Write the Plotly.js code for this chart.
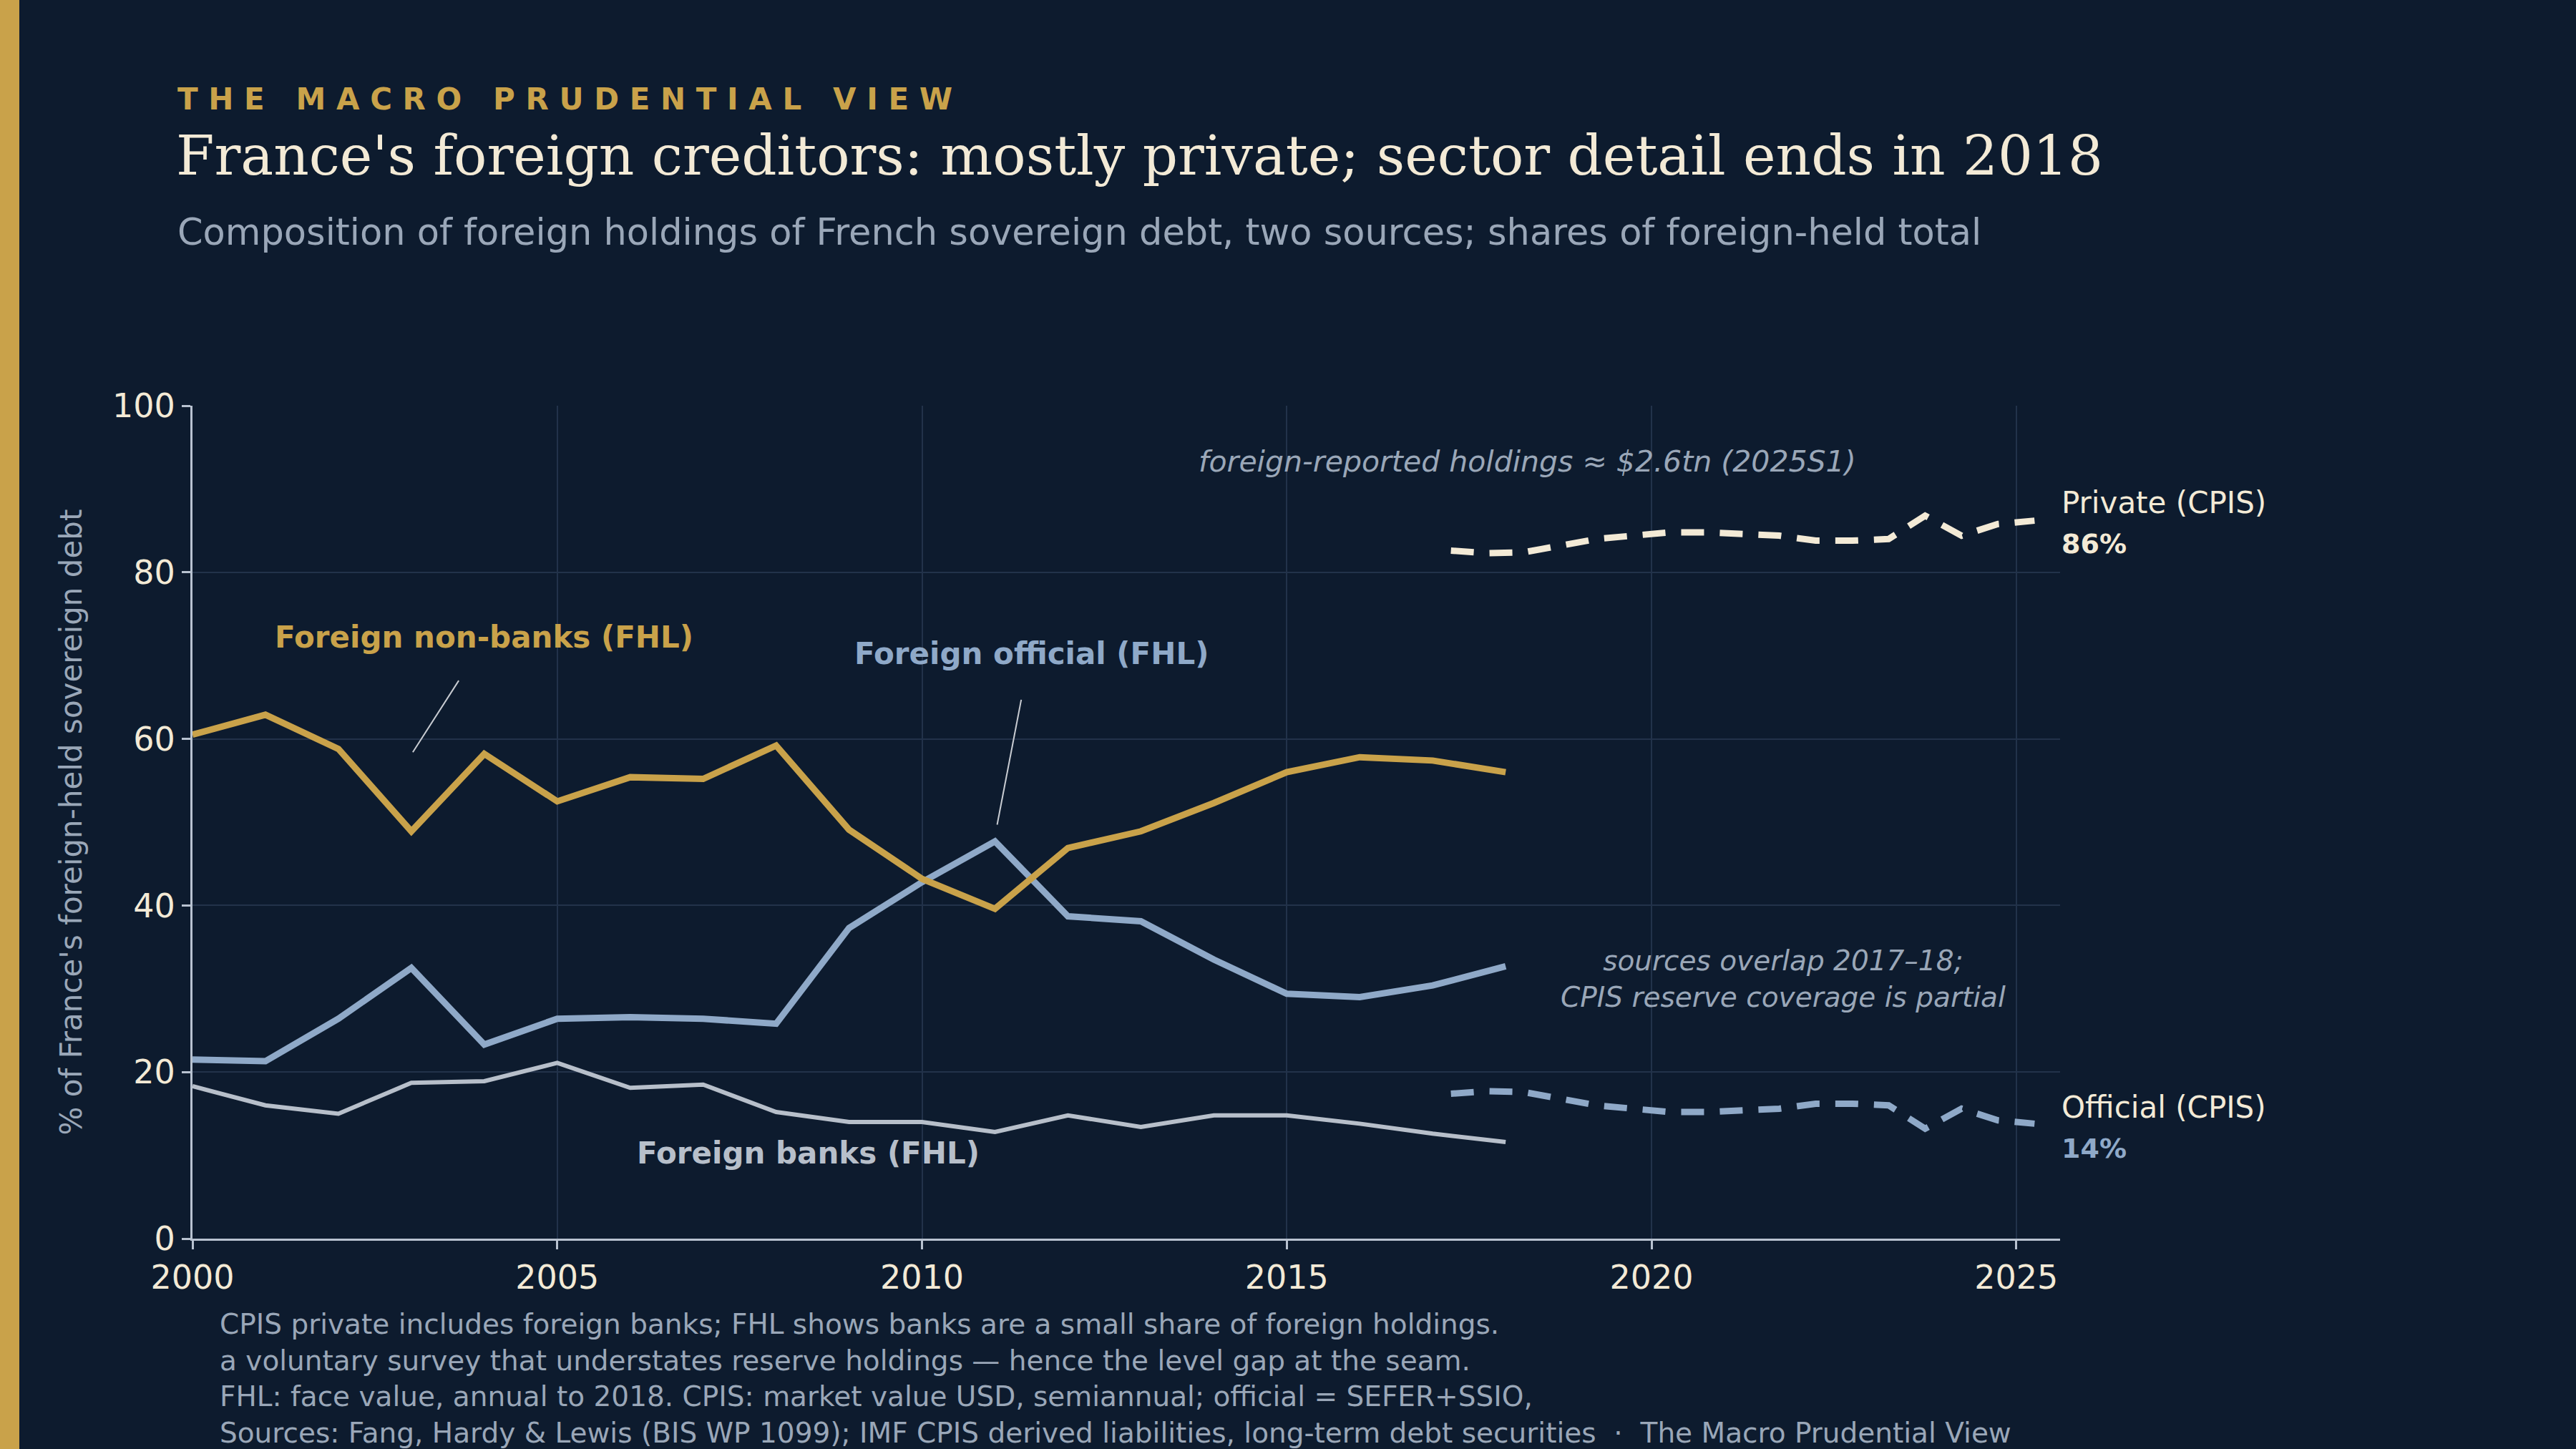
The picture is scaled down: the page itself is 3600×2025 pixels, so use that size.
<!DOCTYPE html>
<html>
<head>
<meta charset="utf-8">
<script src="https://cdn.plot.ly/plotly-3.0.1.min.js"></script>
<style>
  html, body { margin: 0; padding: 0; background: #0d1b2e; }
  #chart { width: 3600px; height: 2025px; }
</style>
</head>
<body>
<div id="chart"></div>
<script>
// FHL annual shares, 2000-2018
const fhlYears = [2000, 2001, 2002, 2003, 2004, 2005, 2006, 2007, 2008, 2009, 2010, 2011, 2012, 2013, 2014, 2015, 2016, 2017, 2018]
const fhlNonBanks = [60.5, 62.9, 58.8, 48.9, 58.2, 52.5, 55.4, 55.2, 59.2, 49.1, 43.2, 39.6, 46.9, 48.9, 52.3, 56.0, 57.8, 57.4, 56.0]
const fhlOfficial = [21.5, 21.3, 26.4, 32.5, 23.3, 26.4, 26.6, 26.4, 25.8, 37.3, 42.8, 47.7, 38.7, 38.1, 33.5, 29.4, 29.0, 30.4, 32.7]
const fhlBanks = [18.3, 16.0, 15.0, 18.7, 18.9, 21.1, 18.1, 18.5, 15.2, 14.0, 14.0, 12.8, 14.8, 13.4, 14.8, 14.8, 13.8, 12.6, 11.6]

// CPIS semiannual shares, 2017S1-2025S1 (plotted mid-half)
const cpisDates = [2017.25, 2017.75, 2018.25, 2018.75, 2019.25, 2019.75, 2020.25, 2020.75, 2021.25, 2021.75, 2022.25, 2022.75, 2023.25, 2023.75, 2024.25, 2024.75, 2025.25]
const cpisPrivate = [82.6, 82.3, 82.4, 83.2, 84.0, 84.4, 84.8, 84.8, 84.6, 84.4, 83.8, 83.8, 84.0, 86.8, 84.4, 85.8, 86.2]
const cpisOfficial = [17.4, 17.7, 17.6, 16.8, 16.0, 15.6, 15.2, 15.2, 15.4, 15.6, 16.2, 16.2, 16.0, 13.2, 15.6, 14.2, 13.8]

const xTicks = [2000, 2005, 2010, 2015, 2020, 2025]
const yTicks = [0, 20, 40, 60, 80, 100]

const BG = "#0d1b2e"
const GOLD = "#c9a24a"
const BLUE = "#8fa9c8"
const GREY = "#b7bfca"
const CREAM = "#f3ead6"
const MUTED = "#9aa7b8"

const line = (x, y, color, width, dash) => ({
    type: "scatter", mode: "lines", x: x, y: y, showlegend: false, hoverinfo: "skip",
    line: { color: color, width: width, dash: dash || "solid" }
})

const data = [
    line(fhlYears, fhlBanks, GREY, 6),
    line(fhlYears, fhlOfficial, BLUE, 9),
    line(fhlYears, fhlNonBanks, GOLD, 9),
    line(cpisDates, cpisOfficial, BLUE, 9, "32px,22px"),
    line(cpisDates, cpisPrivate, CREAM, 9, "32px,22px")
]

const sans = "DejaVu Sans, sans-serif"
const paperText = (text, x, y, size, color, extra) => Object.assign({
    text: text, xref: "paper", yref: "paper", x: x, y: y, showarrow: false,
    xanchor: "left", yanchor: "middle", font: { family: sans, size: size, color: color }
}, extra || {})
const dataText = (text, x, y, size, color, extra) => Object.assign({
    text: text, xref: "x", yref: "y", x: x, y: y, showarrow: false,
    xanchor: "center", yanchor: "middle", font: { family: sans, size: size, color: color }
}, extra || {})

// paper coords: plot spans x 269..2879, y 567..1731
const px = v => (v - 269) / (2879 - 269)
const py = v => (1731 - v) / (1731 - 567)

const annotations = [
    paperText("T H E   M A C R O   P R U D E N T I A L   V I E W", px(246), py(138), 42, GOLD, { font: { family: sans, size: 42, color: GOLD, weight: 700 } }),
    paperText("France's foreign creditors: mostly private; sector detail ends in 2018", px(244), py(218), 78, CREAM, { font: { family: "DejaVu Serif, serif", size: 77, color: CREAM } }),
    paperText("Composition of foreign holdings of French sovereign debt, two sources; shares of foreign-held total", px(246), py(324), 51, MUTED),
    dataText("<b>Foreign non-banks (FHL)</b>", 2004.0, 72.2, 42, GOLD),
    dataText("<b>Foreign official (FHL)</b>", 2011.5, 70.2, 42, BLUE),
    dataText("<b>Foreign banks (FHL)</b>", 2008.44, 10.3, 42, GREY),
    dataText("<i>foreign-reported holdings ≈ $2.6tn (2025S1)</i>", 2018.3, 93.3, 41, MUTED),
    dataText("<i>sources overlap 2017–18;<br>CPIS reserve coverage is partial</i>", 2021.8, 31.2, 39, MUTED),
    paperText("Private (CPIS)", 1.0, py(306 * 2.296), 42, CREAM),
    paperText("<b>86%</b>", 1.0, py(331 * 2.296), 38, CREAM),
    paperText("Official (CPIS)", 1.0, py(674 * 2.296), 42, CREAM),
    paperText("<b>14%</b>", 1.0, py(699 * 2.296), 38, BLUE),
    paperText("CPIS private includes foreign banks; FHL shows banks are a small share of foreign holdings.<br>" +
        "a voluntary survey that understates reserve holdings — hence the level gap at the seam.<br>" +
        "FHL: face value, annual to 2018. CPIS: market value USD, semiannual; official = SEFER+SSIO,<br>" +
        "Sources: Fang, Hardy &amp; Lewis (BIS WP 1099); IMF CPIS derived liabilities, long-term debt securities  ·  The Macro Prudential View",
        px(305), py(1826), 39, MUTED, { yanchor: "top", align: "left" })
]

const shapes = [
    { type: "rect", xref: "paper", yref: "paper", x0: px(0), x1: px(27), y0: py(0), y1: py(2025), fillcolor: GOLD, line: { width: 0 } },
    { type: "line", xref: "x", yref: "y", x0: 2003.65, y0: 67.0, x1: 2003.02, y1: 58.4, line: { color: "#c8ccd2", width: 2 } },
    { type: "line", xref: "x", yref: "y", x0: 2011.36, y0: 64.7, x1: 2011.03, y1: 49.7, line: { color: "#c8ccd2", width: 2 } }
]

const layout = {
    width: 3600,
    height: 2025,
    margin: { l: 269, r: 721, t: 567, b: 294 },
    paper_bgcolor: BG,
    plot_bgcolor: BG,
    font: { family: sans, color: CREAM },
    showlegend: false,
    xaxis: {
        range: [2000, 2025.6],
        tickvals: xTicks,
        ticktext: xTicks.map(String),
        tickfont: { size: 46, color: CREAM },
        showgrid: true, gridcolor: "#22324a", gridwidth: 2,
        zeroline: false,
        showline: true, linecolor: "#b8c2d0", linewidth: 3,
        ticks: "outside", ticklen: 12, tickcolor: "#b8c2d0", tickwidth: 3
    },
    yaxis: {
        range: [0, 100],
        tickvals: yTicks,
        tickfont: { size: 46, color: CREAM },
        showgrid: true, gridcolor: "#22324a", gridwidth: 2,
        zeroline: false,
        showline: true, linecolor: "#b8c2d0", linewidth: 3,
        ticks: "outside", ticklen: 12, tickcolor: "#b8c2d0", tickwidth: 3,
        title: { text: "% of France's foreign-held sovereign debt", font: { size: 42, color: MUTED }, standoff: 30 }
    },
    annotations: annotations,
    shapes: shapes
}

Plotly.newPlot("chart", data, layout, { staticPlot: true })
</script>
</body>
</html>
